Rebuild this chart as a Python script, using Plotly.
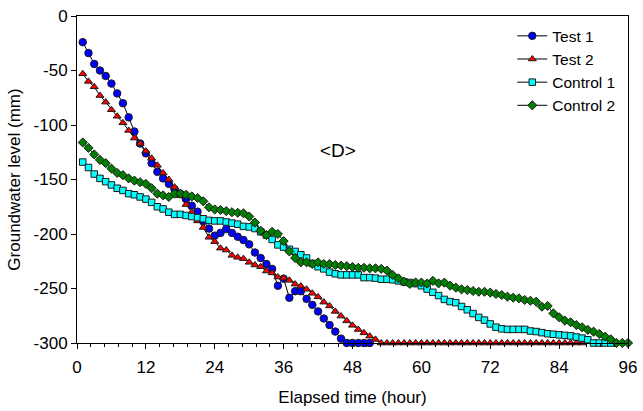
import plotly.graph_objects as go

# Elapsed time (hour) for each series
hours_test1 = list(range(1, 52))
test1 = [-24, -34, -44, -50, -55, -62, -71, -80, -93, -106,
         -117, -126, -135, -143, -149, -154, -159, -163, -168, -174,
         -179.5, -188, -195, -201.5, -199, -195.5, -199, -202.5, -205.5, -209.5,
         -217, -222, -227.5, -232, -247.5, -241, -258.5, -252.5, -252.5, -259.5,
         -265, -271, -277.5, -283.5, -289.5, -296, -300, -300, -300, -300,
         -300]

hours_test2 = list(range(1, 89))
test2 = [-53, -60, -65, -73, -79, -86, -92, -98, -105, -112,
         -117, -124, -130.5, -137, -144, -150, -157, -165, -173, -180,
         -188, -194, -203, -207, -213, -214.7, -219.6, -221.4, -222.6, -226,
         -228.4, -230, -234, -235.7, -239.5, -240.5, -242.5, -246, -247.8, -250.7,
         -254.4, -257.7, -262.5, -266, -271, -275.3, -279.7, -283.8, -287.6, -290.7,
         -293.7, -296.7] + [-300] * 36

hours_control1 = list(range(1, 94))
control1 = [-134, -139, -145, -149, -152, -155, -158, -160, -163, -164,
            -166, -168, -171, -175, -177, -180, -182, -182, -183, -184,
            -185, -186, -187.5, -188, -188, -189, -190, -191, -193, -193.5,
            -195, -198, -201, -205, -210, -212, -214, -216, -219, -222,
            -227, -230, -232, -235, -236.5, -237.5, -237.5, -237.5, -237.5, -240,
            -240, -240.5, -241.5, -241.5, -242, -243, -244, -244.5, -245.5, -247.5,
            -250.5, -253.5, -256.5, -260, -262, -263, -266.5, -269.5, -273, -276.5,
            -279, -282.5, -285.5, -287, -287.5, -287.5, -287.5, -287.5, -289, -289.5,
            -290.5, -291.5, -292, -292.5, -293, -293.5, -294.5, -295.5, -297, -300,
            -300, -300, -300]

hours_control2 = list(range(1, 97))
control2 = [-116, -121, -127, -132, -135, -140, -144, -146, -149, -151,
            -152.5, -154, -158, -163, -164.5, -166, -163, -163, -164, -165.5,
            -167, -170, -175.5, -177.5, -178, -179, -180, -180.5, -181, -184,
            -189.5, -197, -201, -198, -200, -206.5, -216, -222, -226, -226,
            -227.5, -226, -227.5, -227.5, -228.5, -229, -229.5, -230.3, -231, -231,
            -231.5, -231.5, -232, -233.6, -237.6, -240.7, -243.7, -245.8, -244.5, -244.5,
            -245.5, -243, -245.3, -244.6, -247.4, -249.2, -250.8, -251.4, -252.3, -253,
            -253, -253.8, -255, -256, -257.5, -258.4, -259, -260.5, -261.2, -262.1,
            -266.7, -266, -272.8, -276.4, -279.5, -281, -283.5, -285.6, -288, -289.6,
            -291.7, -294.2, -296.6, -300, -300, -300]

x_ticks = [0, 12, 24, 36, 48, 60, 72, 84, 96]
y_ticks = [0, -50, -100, -150, -200, -250, -300]

FONT = "Liberation Sans, Arial, sans-serif"

fig = go.Figure()

series = [
    ("Test 1", hours_test1, test1, "circle", "#0000FF", 7.5),
    ("Test 2", hours_test2, test2, "triangle-up", "#FF0000", 7),
    ("Control 1", hours_control1, control1, "square", "#00FFFF", 6.5),
    ("Control 2", hours_control2, control2, "diamond", "#008000", 7),
]
for name, xs, ys, sym, col, sz in series:
    fig.add_trace(go.Scatter(
        x=xs, y=ys, name=name, mode="lines+markers",
        line=dict(color="black", width=1),
        marker=dict(symbol=sym, color=col, size=sz,
                    line=dict(color="#1a1a1a", width=1)),
        cliponaxis=False,
    ))

fig.add_annotation(x=45.5, y=-123, text="&lt;D&gt;", showarrow=False,
                   font=dict(size=19, color="black", family=FONT))

fig.update_layout(
    width=643, height=411,
    margin=dict(l=77, r=15, t=16, b=68, autoexpand=False),
    paper_bgcolor="white", plot_bgcolor="white",
    font=dict(family=FONT, size=17, color="black"),
    showlegend=True,
    legend=dict(x=0.79, y=0.99, xanchor="left", yanchor="top",
                bgcolor="rgba(0,0,0,0)", borderwidth=0,
                font=dict(size=15.5, family=FONT), tracegroupgap=0,
                itemwidth=30),
    xaxis=dict(range=[0, 96], tickvals=x_ticks, ticktext=[str(v) for v in x_ticks],
               ticks="outside", ticklen=5, tickwidth=1, tickcolor="black",
               ticklabelstandoff=4, automargin=False,
               showline=True, linecolor="black", linewidth=1, mirror=True,
               showgrid=False, zeroline=False,
               minor=dict(dtick=2.4, tick0=0, ticks="outside", ticklen=3,
                          tickcolor="black", tickwidth=1, showgrid=False),
               title=dict(text="Elapsed time (hour)", standoff=14,
                          font=dict(size=17, family=FONT))),
    yaxis=dict(range=[-300, 0], tickvals=y_ticks, ticktext=[str(v) for v in y_ticks],
               ticks="outside", ticklen=5, tickwidth=1, tickcolor="black",
               automargin=False,
               showline=True, linecolor="black", linewidth=1, mirror=True,
               showgrid=False, zeroline=False,
               title=dict(text="Groundwater level (mm)", standoff=8,
                          font=dict(size=17, family=FONT))),
)

fig.write_html("out.html")
